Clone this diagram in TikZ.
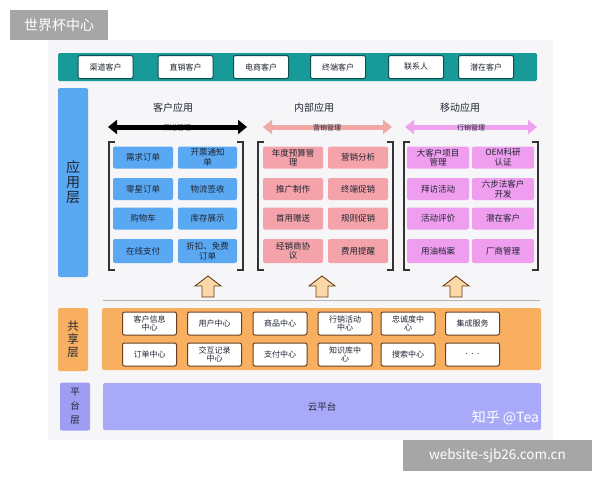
\documentclass[tikz,border=0pt]{standalone}
\usepackage{fontspec}
\setmainfont{Noto Sans CJK SC}
\usetikzlibrary{arrows.meta}
\definecolor{panelbg}{HTML}{F6F6F8}
\definecolor{tealbar}{HTML}{179A98}
\definecolor{tealdark}{HTML}{0E4F50}
\definecolor{bluef}{HTML}{5AA8F2}
\definecolor{pinkf}{HTML}{F5A3AA}
\definecolor{pinkar}{HTML}{F2A8A6}
\definecolor{violf}{HTML}{EF9DEE}
\definecolor{violar}{HTML}{EFA2EF}
\definecolor{orangef}{HTML}{F8AF60}
\definecolor{brownd}{HTML}{6A3F1C}
\definecolor{purpf}{HTML}{A8A9F8}
\definecolor{purpl}{HTML}{9E9DF2}
\definecolor{upfill}{HTML}{FCD8A8}
\definecolor{wmgray}{HTML}{A6A6A6}
\definecolor{txtd}{HTML}{1E2430}
\begin{document}
\begin{tikzpicture}[x=1pt,y=-1pt,
  every node/.style={inner sep=0pt,outer sep=0pt},
  topbox/.style={draw=tealdark,line width=1pt,fill=white,rounded corners=2pt,minimum width=55,minimum height=23,font=\fontsize{8}{9}\selectfont,text=txtd},
  appbox/.style={rounded corners=2pt,minimum height=22,align=center,font=\fontsize{8.5}{9.5}\selectfont,text=txtd},
  bluebox/.style={appbox,fill=bluef,minimum width=60},
  pinkbox/.style={appbox,fill=pinkf,minimum width=60},
  violbox/.style={appbox,fill=violf,minimum width=62},
  sharebox/.style={draw=brownd,line width=1pt,fill=white,rounded corners=2pt,minimum width=54,minimum height=23,align=center,font=\fontsize{8}{8.6}\selectfont,text=txtd},
  layerlabel/.style={rounded corners=2pt,align=center,text=txtd},
  header/.style={font=\fontsize{10}{12}\selectfont,text=txtd},
  bracketline/.style={draw=black!80,line width=1.3pt},
  uparrow/.style={draw=brownd,line width=0.9pt,fill=upfill},
  dblarrow/.style={line width=5pt,{Triangle[width=14pt,length=9pt]}-{Triangle[width=14pt,length=9pt]}},
  arrlabel/.style={font=\fontsize{7}{8}\selectfont,text=txtd}
]
\useasboundingbox (0,0) rectangle (600,480);
\fill[white] (0,0) rectangle (600,480);
% panel
\fill[panelbg] (48,40) rectangle (553,440);
% watermark top
\node[fill=wmgray,minimum width=98,minimum height=30,text=white,font=\fontsize{14}{16}\selectfont] (wm1) at (59,25) {世界杯中心};
% teal bar
\fill[tealbar,rounded corners=1.5pt] (58,53) rectangle (537,81);
\node[topbox] (t1) at (105.5,67) {渠道客户};
\node[topbox] (t2) at (185.5,67) {直销客户};
\node[topbox] (t3) at (261,67) {电商客户};
\node[topbox] (t4) at (338,67) {终端客户};
\node[topbox] (t5) at (416,67) {联系人};
\node[topbox] (t6) at (486,67) {潜在客户};
% layer labels
\node[layerlabel,fill=bluef,minimum width=30,minimum height=189,font=\fontsize{14}{15}\selectfont] (L1) at (73,182.5) {应\\用\\层};
\node[layerlabel,fill=orangef,minimum width=30,minimum height=63,font=\fontsize{11.5}{13}\selectfont] (L2) at (73,339.5) {共\\享\\层};
\node[layerlabel,fill=purpl,minimum width=30,minimum height=48,font=\fontsize{9.5}{14}\selectfont] (L3) at (75,406.5) {平\\台\\层};
% headers
\node[header] (h1) at (173,108) {客户应用};
\node[header] (h2) at (314,108) {内部应用};
\node[header] (h3) at (460,108) {移动应用};
% double arrows
\node[arrlabel] (a1l) at (177,128) {渠道管理};
\coordinate (a1s) at (108,127); \coordinate (a1e) at (247,127);
\draw[dblarrow,black] (a1s) -- (a1e);
\coordinate (a2s) at (263,127); \coordinate (a2e) at (392,127);
\draw[dblarrow,pinkar] (a2s) -- (a2e);
\node[arrlabel] (a2l) at (327,128) {营销管理};
\coordinate (a3s) at (405,127); \coordinate (a3e) at (537,127);
\draw[dblarrow,violar] (a3s) -- (a3e);
\node[arrlabel] (a3l) at (471,128) {行销管理};
% brackets
\foreach \l/\r in {109/243,258/393,404/538}{
  \draw[bracketline] (\l+6,142) -- (\l,142) -- (\l,270) -- (\l+6,270);
  \draw[bracketline] (\r-6,142) -- (\r,142) -- (\r,270) -- (\r-6,270);
}
% blue boxes
\node[bluebox] (b11) at (143,157.5) {需求订单};
\node[bluebox,minimum width=59] (b12) at (207.5,157.5) {开票通知\\单};
\node[bluebox] (b21) at (143,189) {零星订单};
\node[bluebox,minimum width=59] (b22) at (207.5,189) {物流签收};
\node[bluebox] (b31) at (143,218.5) {购物车};
\node[bluebox,minimum width=59] (b32) at (207.5,218.5) {库存展示};
\node[bluebox,minimum height=24] (b41) at (143,251) {在线支付};
\node[bluebox,minimum width=59,minimum height=24] (b42) at (207.5,251) {折扣、免费\\订单};
% pink boxes
\node[pinkbox] (p11) at (293,157.5) {年度预算管\\理};
\node[pinkbox] (p12) at (358,157.5) {营销分析};
\node[pinkbox] (p21) at (293,189) {推广制作};
\node[pinkbox] (p22) at (358,189) {终端促销};
\node[pinkbox] (p31) at (293,218.5) {首用赠送};
\node[pinkbox] (p32) at (358,218.5) {规则促销};
\node[pinkbox,minimum height=24] (p41) at (293,251) {经销商协\\议};
\node[pinkbox,minimum height=24] (p42) at (358,251) {费用提醒};
% violet boxes
\node[violbox] (v11) at (438,157.5) {大客户项目\\管理};
\node[violbox] (v12) at (503,157.5) {OEM科研\\认证};
\node[violbox] (v21) at (438,189) {拜访活动};
\node[violbox] (v22) at (503,189) {六步法客户\\开发};
\node[violbox] (v31) at (438,218.5) {活动评价};
\node[violbox] (v32) at (503,218.5) {潜在客户};
\node[violbox,minimum height=24] (v41) at (438,251) {用油档案};
\node[violbox,minimum height=24] (v42) at (503,251) {厂商管理};
% up arrows
\foreach \cx in {208,322,456}{
  \path[uparrow] (\cx,276) -- ++(13,10) -- ++(-7,0) -- ++(0,11) -- ++(-12,0) -- ++(0,-11) -- ++(-7,0) -- cycle;
}
% separator line
\draw[black!30,line width=0.8pt] (103,300) -- (540,300);
% shared layer
\fill[orangef,rounded corners=2pt] (102,308) rectangle (541,370);
\node[sharebox] (s11) at (149.5,323.5) {客户信息\\中心};
\node[sharebox] (s12) at (214.5,323.5) {用户中心};
\node[sharebox] (s13) at (280,323.5) {商品中心};
\node[sharebox] (s14) at (345,323.5) {行销活动\\中心};
\node[sharebox] (s15) at (408,323.5) {忠诚度中\\心};
\node[sharebox] (s16) at (472.5,323.5) {集成服务};
\node[sharebox] (s21) at (149.5,354.5) {订单中心};
\node[sharebox] (s22) at (214.5,354.5) {交互记录\\中心};
\node[sharebox] (s23) at (280,354.5) {支付中心};
\node[sharebox] (s24) at (345,354.5) {知识库中\\心};
\node[sharebox] (s25) at (408,354.5) {搜索中心};
\node[sharebox] (s26) at (472.5,354.5) {.\ \ .\ \ .};
% platform
\fill[purpf,rounded corners=2pt] (103,383) rectangle (541,430);
\node[font=\fontsize{9.5}{11}\selectfont,text=txtd] (cloud) at (322,407) {云平台};
\node[anchor=east,text=white,font=\fontsize{14}{16}\selectfont] (zh) at (539,418) {知乎 @Tea};
% watermark bottom
\node[fill=wmgray,minimum width=189,minimum height=31,text=white,font=\fontsize{13.5}{15}\selectfont] (wm2) at (497.5,455.5) {website-sjb26.com.cn};
\end{tikzpicture}
\end{document}
